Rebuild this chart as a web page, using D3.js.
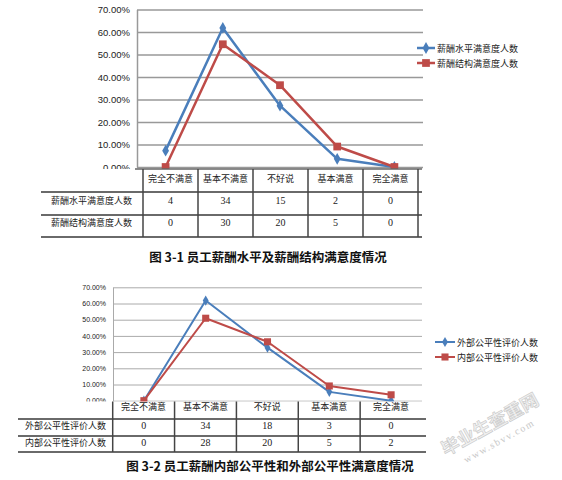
<!DOCTYPE html>
<html>
<head>
<meta charset="utf-8">
<script src="https://cdn.jsdelivr.net/npm/d3@7"></script>
<style>
  body { margin: 0; background: #fff; }
  svg { display: block; }
  text { font-family: "Noto Sans CJK SC", "Noto Sans", sans-serif; }
</style>
</head>
<body>
<div id="chartContainer"></div>
<script>
// categories and ticks shared by both charts
const categories = ["完全不满意", "基本不满意", "不好说", "基本满意", "完全满意"];
const yTicks = [0, 10, 20, 30, 40, 50, 60, 70];

// chart 3-1
const payLevelName = "薪酬水平满意度人数";
const payStructName = "薪酬结构满意度人数";
const payLevelPct = [7.27, 61.82, 27.27, 3.64, 0];
const payStructPct = [0, 54.55, 36.36, 9.09, 0];
const payLevelCount = [4, 34, 15, 2, 0];
const payStructCount = [0, 30, 20, 5, 0];
const caption1 = "图 3-1  员工薪酬水平及薪酬结构满意度情况";

// chart 3-2
const externalName = "外部公平性评价人数";
const internalName = "内部公平性评价人数";
const externalPct = [0, 61.82, 32.73, 5.45, 0];
const internalPct = [0, 50.91, 36.36, 9.09, 3.64];
const externalCount = [0, 34, 18, 3, 0];
const internalCount = [0, 28, 20, 5, 2];
const caption2 = "图 3-2  员工薪酬内部公平性和外部公平性满意度情况";

const blue = "#4a7ebb";
const red = "#be4b48";

const svg = d3.select("#chartContainer")
    .append("svg")
    .attr("width", 562)
    .attr("height", 480);

function drawPanel(cfg) {
    const g = svg.append("g");

    const x = d3.scalePoint()
        .domain(categories)
        .range([cfg.x0, cfg.x1])
        .padding(0.5);

    const y = d3.scaleLinear()
        .domain([0, 70])
        .range([cfg.yBottom, cfg.yTop]);

    // y axis with gridlines
    const axis = g.append("g")
        .attr("transform", "translate(" + cfg.x0 + ",0)")
        .call(d3.axisLeft(y)
            .tickValues(yTicks)
            .tickSizeInner(-(cfg.x1 - cfg.x0))
            .tickSizeOuter(0)
            .tickPadding(cfg.tickPad)
            .tickFormat(d => d.toFixed(2) + "%"));
    axis.select(".domain").attr("stroke", cfg.gridColor).attr("stroke-width", cfg.gridWidth);
    axis.selectAll(".tick line").attr("stroke", cfg.gridColor).attr("stroke-width", cfg.gridWidth);
    axis.selectAll(".tick text")
        .attr("fill", "#222")
        .style("font-family", "'Liberation Sans', Arial, sans-serif")
        .style("font-size", cfg.tickFont + "px");

    // series lines
    const line = d3.line()
        .x((d, i) => x(categories[i]))
        .y(d => y(d));

    cfg.series.forEach(s => {
        g.append("path")
            .datum(s.values)
            .attr("fill", "none")
            .attr("stroke", s.color)
            .attr("stroke-width", cfg.lineWidth)
            .attr("stroke-linejoin", "round")
            .attr("d", line);

        g.selectAll(null)
            .data(s.values)
            .enter()
            .append("path")
            .attr("transform", (d, i) => "translate(" + x(categories[i]) + "," + y(d) + ")")
            .attr("d", d3.symbol().type(s.symbol).size(s.symbolSize))
            .attr("fill", s.color);
    });

    // legend
    cfg.series.forEach((s, i) => {
        const ly = cfg.legendY + i * cfg.legendGap;
        g.append("line")
            .attr("x1", cfg.legendX).attr("x2", cfg.legendX + cfg.legendLen)
            .attr("y1", ly).attr("y2", ly)
            .attr("stroke", s.color).attr("stroke-width", cfg.lineWidth);
        g.append("path")
            .attr("transform", "translate(" + (cfg.legendX + cfg.legendLen / 2) + "," + ly + ")")
            .attr("d", d3.symbol().type(s.symbol).size(s.symbolSize))
            .attr("fill", s.color);
        g.append("text")
            .attr("x", cfg.legendX + cfg.legendLen + 2)
            .attr("y", ly)
            .attr("dominant-baseline", "central")
            .style("font-size", "9px")
            .attr("fill", "#222")
            .text(s.name);
    });

    // data table under the plot
    const t = cfg.table;
    const col = d3.scaleBand()
        .domain(categories)
        .range([t.x0, t.x1]);

    g.append("rect")
        .attr("x", 0).attr("y", t.rows[0])
        .attr("width", t.x1 + 4).attr("height", t.rows[3] - t.rows[0] + 2)
        .attr("fill", "#fff");

    if (t.topLine) {
        g.append("line")
            .attr("x1", t.topStart).attr("x2", t.x1 + 4)
            .attr("y1", t.rows[0]).attr("y2", t.rows[0])
            .attr("stroke", "#666").attr("stroke-width", 1.5);
    }

    [1, 2, 3].forEach(r => {
        g.append("line")
            .attr("x1", t.left).attr("x2", t.x1 + 4)
            .attr("y1", t.rows[r]).attr("y2", t.rows[r])
            .attr("stroke", "#6a6a6a").attr("stroke-width", 2);
    });

    const bounds = categories.map(c => col(c));
    if (t.rightLine) bounds.push(t.x1);
    g.selectAll(null)
        .data(bounds)
        .enter()
        .append("line")
        .attr("x1", d => d).attr("x2", d => d)
        .attr("y1", t.rows[0]).attr("y2", t.rows[3])
        .attr("stroke", "#444").attr("stroke-width", 1.5);

    // header row
    g.selectAll(null)
        .data(categories)
        .enter()
        .append("text")
        .attr("x", d => col(d) + col.bandwidth() / 2)
        .attr("y", t.textY[0])
        .attr("text-anchor", "middle")
        .attr("dominant-baseline", "central")
        .style("font-size", "9px")
        .attr("fill", "#222")
        .text(d => d);

    // count rows
    cfg.series.forEach((s, i) => {
        g.append("text")
            .attr("x", t.labelX)
            .attr("y", t.textY[i + 1])
            .attr("text-anchor", "end")
            .attr("dominant-baseline", "central")
            .style("font-size", "9px")
            .attr("fill", "#222")
            .text(s.name);

        g.selectAll(null)
            .data(s.counts)
            .enter()
            .append("text")
            .attr("x", (d, j) => col(categories[j]) + col.bandwidth() / 2)
            .attr("y", t.textY[i + 1])
            .attr("text-anchor", "middle")
            .attr("dominant-baseline", "central")
            .style("font-family", "'Liberation Serif', 'Times New Roman', serif")
            .style("font-size", "10px")
            .attr("fill", "#222")
            .text(d => d);
    });

    // caption
    g.append("text")
        .attr("x", cfg.captionX)
        .attr("y", cfg.captionY)
        .attr("text-anchor", "middle")
        .attr("dominant-baseline", "central")
        .style("font-size", "12.5px")
        .style("font-weight", "bold")
        .attr("fill", "#111")
        .text(cfg.caption);
}

drawPanel({
    x0: 137, x1: 423, yTop: 9.5, yBottom: 167,
    gridColor: "#999", gridWidth: 1.5, tickFont: 9.5, tickPad: 7,
    lineWidth: 2.5,
    series: [
        { name: payLevelName, values: payLevelPct, counts: payLevelCount, color: blue, symbol: d3.symbolDiamond, symbolSize: 40 },
        { name: payStructName, values: payStructPct, counts: payStructCount, color: red, symbol: d3.symbolSquare, symbolSize: 60 }
    ],
    legendX: 417, legendLen: 18, legendY: 48, legendGap: 15,
    table: {
        x0: 143, x1: 418, left: 41, topStart: 135, topLine: true, rightLine: true,
        rows: [169, 192, 215, 237],
        textY: [178, 200, 222],
        labelX: 132
    },
    caption: caption1, captionX: 268, captionY: 256
});

drawPanel({
    x0: 113, x1: 422, yTop: 287.3, yBottom: 400.7,
    gridColor: "#aaa", gridWidth: 1, tickFont: 7, tickPad: 7,
    lineWidth: 2,
    series: [
        { name: externalName, values: externalPct, counts: externalCount, color: blue, symbol: d3.symbolDiamond, symbolSize: 30 },
        { name: internalName, values: internalPct, counts: internalCount, color: red, symbol: d3.symbolSquare, symbolSize: 50 }
    ],
    legendX: 435, legendLen: 20, legendY: 342, legendGap: 15,
    table: {
        x0: 112.7, x1: 422, left: 18, topStart: 112.7, topLine: false, rightLine: false,
        rows: [401.5, 419, 436, 452],
        textY: [406, 425, 442],
        labelX: 106
    },
    caption: caption2, captionX: 270, captionY: 465
});

// faint site watermark in the lower right corner
const wm = svg.append("g").attr("transform", "translate(493,430) rotate(-29)");
wm.append("text")
    .attr("text-anchor", "middle")
    .attr("y", 0)
    .style("font-size", "18px")
    .style("font-weight", "bold")
    .attr("fill", "#f0f0f0")
    .attr("stroke", "#c8c8c8")
    .attr("stroke-width", 0.6)
    .text("毕业生查重网");
wm.append("text")
    .attr("text-anchor", "middle")
    .attr("y", 16)
    .style("font-family", "'Liberation Serif', serif")
    .style("font-size", "10px")
    .style("letter-spacing", "1.5px")
    .attr("fill", "#c8c8c8")
    .text("www.sbvv.com");
</script>
</body>
</html>
